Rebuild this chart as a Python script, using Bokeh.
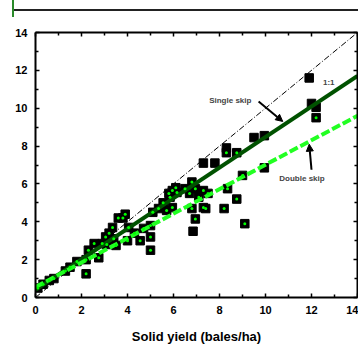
from bokeh.plotting import figure
from bokeh.models import Range1d, LinearAxis, Arrow, NormalHead, Label, FixedTicker, Div
from bokeh.layouts import column
from bokeh.embed import file_html
from bokeh.resources import INLINE

# ---- data ----
ticks_major = [0, 2, 4, 6, 8, 10, 12, 14]
ticks_minor = [1, 3, 5, 7, 9, 11, 13]

# squares with a green centre dot
dot_x = [0.1, 0.33, 0.6, 0.8, 1.3, 1.5, 1.8, 2.2, 2.2, 2.3, 2.55, 2.75, 2.9, 3.05,
         3.2, 3.35, 3.1, 3.4, 3.5, 3.6, 3.8, 3.9, 4.05, 4.3, 4.0, 4.55, 5.0, 4.7,
         5.0, 5.0, 5.1, 5.35, 5.55, 5.8, 5.95, 6.1, 5.7, 5.95, 6.5, 6.8, 6.95,
         7.3, 6.7, 7.5, 7.1, 6.95, 7.3, 6.8, 7.4, 8.2, 8.75, 8.35, 9.0, 9.1,
         8.3, 8.75, 12.2, 6.15, 5.85]
dot_y = [0.5, 0.7, 0.9, 1.0, 1.4, 1.6, 1.9, 1.25, 2.0, 2.5, 2.85, 2.1, 2.85, 3.2,
         3.4, 3.7, 2.8, 3.1, 2.75, 4.2, 4.2, 4.4, 3.7, 3.4, 3.0, 3.0, 3.2, 3.65,
         3.8, 2.5, 4.5, 4.7, 5.0, 5.5, 5.65, 5.8, 4.6, 4.75, 5.75, 6.1, 5.75,
         5.65, 5.5, 5.5, 5.3, 4.15, 4.75, 4.7, 4.7, 4.7, 5.2, 5.75, 6.45, 3.9,
         7.65, 7.65, 9.5, 5.55, 5.3]
# plain squares
sq_x = [6.85, 7.3, 7.8, 8.3, 9.5, 9.95, 9.95, 11.9, 12.0, 12.2]
sq_y = [3.5, 7.1, 7.1, 7.9, 8.45, 8.55, 6.85, 11.6, 10.25, 10.05]

line_x = [0, 14]
one_to_one_y = [0, 14]
single_skip_y = [0.4, 11.7]
double_skip_y = [0.55, 9.6]

FONT = "Liberation Sans"

p = figure(width=358, height=325, x_range=Range1d(0, 14), y_range=Range1d(0, 14),
           output_backend="svg", toolbar_location=None,
           min_border_left=35, min_border_right=1, min_border_top=8, min_border_bottom=52)
p.grid.visible = False
p.outline_line_color = None
p.background_fill_color = "white"
p.border_fill_color = "white"

ticker = FixedTicker(ticks=ticks_major, minor_ticks=ticks_minor)


def style_axis(ax, labels=True):
    ax.ticker = ticker
    ax.axis_line_width = 2
    ax.axis_line_color = "black"
    ax.major_tick_in = 4
    ax.major_tick_out = 0
    ax.minor_tick_in = 3
    ax.minor_tick_out = 0
    ax.major_tick_line_width = 1.5
    ax.minor_tick_line_width = 1.5
    if labels:
        ax.major_label_text_font = FONT
        ax.major_label_text_font_style = "bold"
        ax.major_label_text_font_size = "11px"
        ax.major_label_text_color = "black"
    else:
        ax.major_label_text_font_size = "1px"
        ax.major_label_text_alpha = 0
        ax.major_label_standoff = 0


style_axis(p.xaxis[0])
style_axis(p.yaxis[0])
p.xaxis[0].major_label_standoff = 8
p.yaxis[0].major_label_standoff = 8
p.xaxis[0].axis_label = "Solid yield (bales/ha)"
p.xaxis[0].axis_label_text_font = FONT
p.xaxis[0].axis_label_text_font_style = "bold"
p.xaxis[0].axis_label_text_font_size = "13px"
p.xaxis[0].axis_label_standoff = 12
p.xaxis[0].axis_label_text_color = "black"

top_ax = LinearAxis()
style_axis(top_ax, labels=False)
p.add_layout(top_ax, "above")
right_ax = LinearAxis()
style_axis(right_ax, labels=False)
p.add_layout(right_ax, "right")

# points
p.scatter(dot_x, dot_y, marker="square", size=8.5, fill_color="black", line_color="black")
p.scatter(sq_x, sq_y, marker="square", size=8.5, fill_color="black", line_color="black")

# lines
p.line(line_x, one_to_one_y, line_color="black", line_width=1, line_dash="6 2 1 2")
p.line(line_x, single_skip_y, line_color="#005200", line_width=4)
p.line(line_x, double_skip_y, line_color="#22ff22", line_width=4, line_dash="9 3")

p.scatter(dot_x, dot_y, marker="circle", size=3, fill_color="#00ff00", line_color=None)

# annotations
p.add_layout(Label(x=12.75, y=11.36, text="1:1", text_font=FONT, text_font_style="bold",
                   text_font_size="8px", text_align="center", text_baseline="middle"))
p.add_layout(Label(x=7.55, y=10.4, text="Single skip", text_font=FONT, text_font_style="bold",
                   text_font_size="8px", text_align="left", text_baseline="middle"))
p.add_layout(Label(x=10.6, y=6.3, text="Double skip", text_font=FONT, text_font_style="bold",
                   text_font_size="8px", text_align="left", text_baseline="middle"))
p.add_layout(Arrow(x_start=9.7, y_start=10.35, x_end=10.75, y_end=9.3,
                   line_width=2, line_color="black",
                   end=NormalHead(size=7, fill_color="black", line_color="black")))
p.add_layout(Arrow(x_start=12.0, y_start=6.75, x_end=11.9, y_end=8.1,
                   line_width=2, line_color="black",
                   end=NormalHead(size=7, fill_color="black", line_color="black")))

# page header decoration (rules above the chart)
header = Div(width=358, height=24, margin=0, text=(
    '<div style="position:relative;width:358px;height:24px;">'
    '<div style="position:absolute;left:12px;top:0px;width:2px;height:17px;background:#2a8a2a;"></div>'
    '<div style="position:absolute;left:14px;top:9px;width:344px;height:2px;background:#222;"></div>'
    '</div>'))

# dotted rule drawn in the figure's top border area
p.add_layout(Arrow(x_start=12, y_start=-6, x_end=358, y_end=-6, start_units="canvas",
                   end_units="canvas", end=None, line_width=1, line_color="#444444",
                   line_dash="1 1"))

layout = column(header, p, spacing=0)
open("out.html", "w").write(file_html(layout, INLINE))
